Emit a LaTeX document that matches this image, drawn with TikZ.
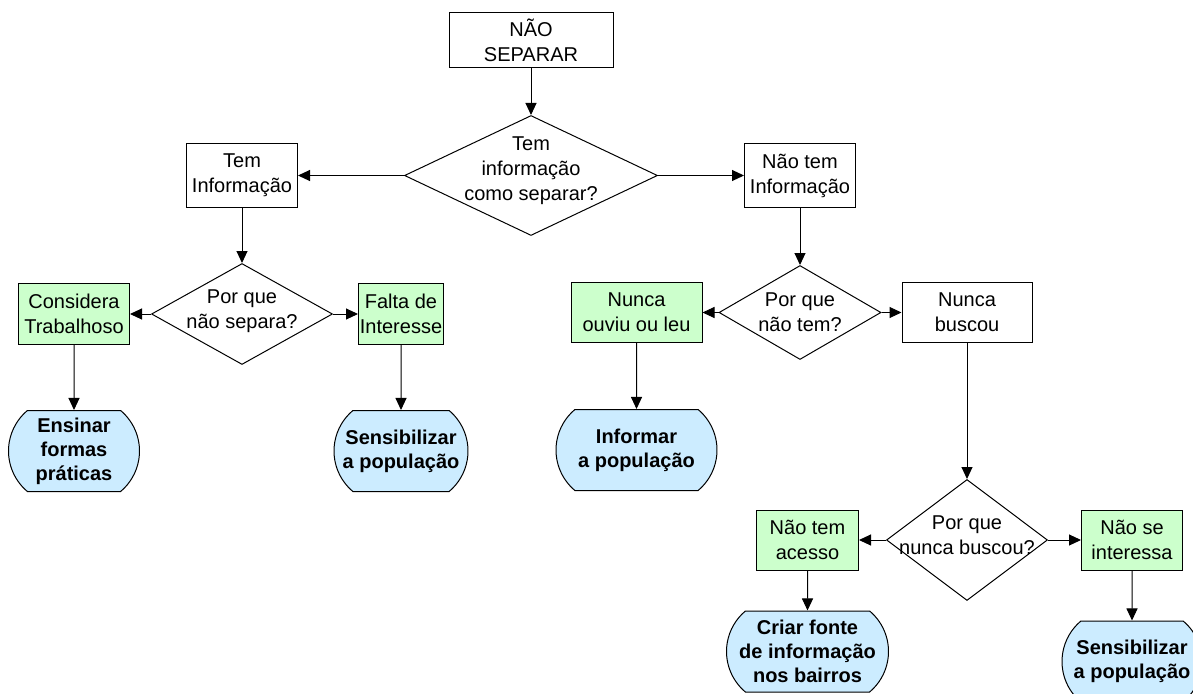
\documentclass[tikz,border=0pt]{standalone}
\usepackage{fontspec}
\setmainfont{Liberation Sans}
\usetikzlibrary{arrows.meta,positioning,shapes.geometric,shapes.misc}

\definecolor{verde}{HTML}{CCFFCC}
\definecolor{azul}{HTML}{CCECFF}

\begin{document}
\begin{tikzpicture}[
        x=1pt, y=1pt,
        node distance=20pt,
        font=\fontsize{20}{25}\selectfont,
        line width=1pt,
        >={Triangle[length=12pt,width=11pt]},
        box/.style={
            rectangle,
            draw=black,
            align=center,
            inner sep=0pt,
        },
        box1/.style={
            fill=verde,
        },
        ask/.style={
            diamond,
            draw=black,
            inner sep=0pt,
        },
        fim/.style={
            rounded rectangle,
            rounded rectangle arc length=100,
            draw=black,
            fill=azul,
            align=center,
            inner sep=0pt,
            minimum height=81pt,
            font=\fontsize{20}{24}\selectfont\bfseries,
        },
    ]
        \useasboundingbox (0,0) rectangle (1193,-693);
        \clip (0,0) rectangle (1193,-693);

        \node [box, minimum width=164pt, minimum height=55pt] (naosep) at (531,-40) {NÃO\\SEPARAR};
        \node [ask, minimum width=253pt, minimum height=120pt, below=47pt of naosep,
            label={[align=center, yshift=5pt]center:{Tem\\informação\\como separar?}}] (temq) {};

        % lado esquerdo
        \node [box, minimum width=111pt, minimum height=64pt, left=106pt of temq] (tem) {Tem\\Informação};
        \node [ask, minimum width=181pt, minimum height=101pt, below=55pt of tem,
            label={[align=center, yshift=3pt]center:{Por que\\não separa?}}] (separaq) {};
        \node [box, box1, minimum width=111pt, minimum height=61pt, left=21pt of separaq] (trab) {Considera\\Trabalhoso};
        \node [box, box1, minimum width=85pt, minimum height=61pt, right=25pt of separaq] (falta) {Falta de\\Interesse};
        \node [fim, minimum width=131pt, below=65pt of trab] (ensinar) {Ensinar\\formas\\práticas};
        \node [fim, minimum width=134pt, below=65pt of falta] (sens1) {Sensibilizar\\a população};

        % lado direito
        \node [box, minimum width=111pt, minimum height=64pt, right=86pt of temq] (naotem) {Não tem\\Informação};
        \node [ask, minimum width=162pt, minimum height=94pt, below=57pt of naotem,
            label={[align=center]center:{Por que\\não tem?}}] (temnq) {};
        \node [box, box1, minimum width=131pt, minimum height=60pt, left=16pt of temnq] (ouviu) {Nunca\\ouviu ou leu};
        \node [box, minimum width=130pt, minimum height=60pt, right=20pt of temnq] (buscou) {Nunca\\buscou};
        \node [fim, minimum width=161pt, below=66pt of ouviu] (informar) {Informar\\a população};

        \node [ask, minimum width=161pt, minimum height=121pt, below=136pt of buscou,
            label={[align=center, yshift=5pt]center:{Por que\\nunca buscou?}}] (buscouq) {};
        \node [box, box1, minimum width=102pt, minimum height=60pt, left=27pt of buscouq] (acesso) {Não tem\\acesso};
        \node [box, box1, minimum width=101pt, minimum height=60pt, right=33pt of buscouq] (interessa) {Não se\\interessa};
        \node [fim, minimum width=162pt, below=40pt of acesso] (criar) {Criar fonte\\de informação\\nos bairros};
        \node [fim, minimum width=140pt, below=50pt of interessa] (sens2) {Sensibilizar\\a população};

        \draw [->] (naosep) -- (temq);
        \draw [->] (temq) -- (tem);
        \draw [->] (temq) -- (naotem);

        \draw [->] (tem) -- (separaq);
        \draw [->] (separaq) -- (trab);
        \draw [->] (separaq) -- (falta);
        \draw [->] (trab) -- (ensinar);
        \draw [->] (falta) -- (sens1);

        \draw [->] (naotem) -- (temnq);
        \draw [->] (temnq) -- (ouviu);
        \draw [->] (temnq) -- (buscou);
        \draw [->] (ouviu) -- (informar);
        \draw [->] (buscou) -- (buscouq);
        \draw [->] (buscouq) -- (acesso);
        \draw [->] (buscouq) -- (interessa);
        \draw [->] (acesso) -- (criar);
        \draw [->] (interessa) -- (sens2);
    \end{tikzpicture}
\end{document}
